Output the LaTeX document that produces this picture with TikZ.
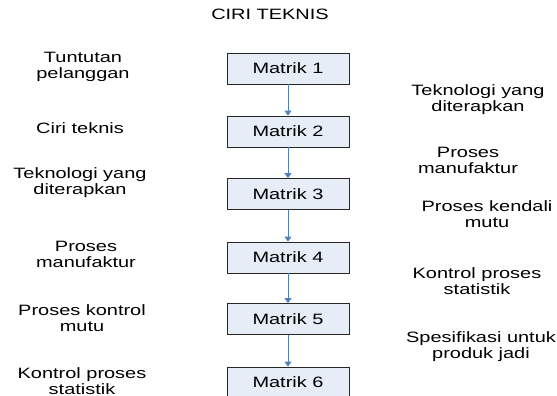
\documentclass[tikz,border=0pt]{standalone}
\usepackage{fontspec}
\setmainfont[FakeStretch=1.33]{Liberation Sans}
\usetikzlibrary{arrows.meta}
\definecolor{boxfill}{HTML}{E6EDF7}
\definecolor{arrowblue}{HTML}{4F81BD}
\begin{document}
\begin{tikzpicture}[x=1pt,y=-1pt,
  font=\fontsize{15}{16}\selectfont,
  matbox/.style={draw=black!85, line width=0.8pt, fill=boxfill, minimum width=122pt, minimum height=31pt, inner sep=0pt},
  lbl/.style={align=center, inner sep=0pt},
  flow/.style={draw=arrowblue, line width=0.8pt, -{Triangle[width=7pt,length=5pt]}}]
\useasboundingbox (0,0) rectangle (557,396);
\clip (0,0) rectangle (557,396);
\node[lbl] (title) at (270,14) {CIRI TEKNIS};
\node[matbox] (m1) at (288,68.5) {Matrik 1};
\node[matbox] (m2) at (288,131.5) {Matrik 2};
\node[matbox] (m3) at (288,194) {Matrik 3};
\node[matbox] (m4) at (288,257.5) {Matrik 4};
\node[matbox] (m5) at (288,319) {Matrik 5};
\node[matbox] (m6) at (288,382.5) {Matrik 6};
\draw[flow] (m1) -- (m2);
\draw[flow] (m2) -- (m3);
\draw[flow] (m3) -- (m4);
\draw[flow] (m4) -- (m5);
\draw[flow] (m5) -- (m6);
\node[lbl] (l1) at (83,67) {Tuntutan\\pelanggan};
\node[lbl] (l2) at (80,128) {Ciri teknis};
\node[lbl] (l3) at (80,183) {Teknologi yang\\diterapkan};
\node[lbl] (l4) at (86,254) {Proses\\manufaktur};
\node[lbl] (l5) at (82,318) {Proses kontrol\\mutu};
\node[lbl] (l6) at (82,381) {Kontrol proses\\statistik};
\node[lbl] (r1) at (478,100) {Teknologi yang\\diterapkan};
\node[lbl] (r2) at (468,160) {Proses\\manufaktur};
\node[lbl] (r3) at (487,214) {Proses kendali\\mutu};
\node[lbl] (r4) at (477,281) {Kontrol proses\\statistik};
\node[lbl] (r5) at (481,347) {Spesifikasi untuk\\produk jadi};
\end{tikzpicture}
\end{document}
